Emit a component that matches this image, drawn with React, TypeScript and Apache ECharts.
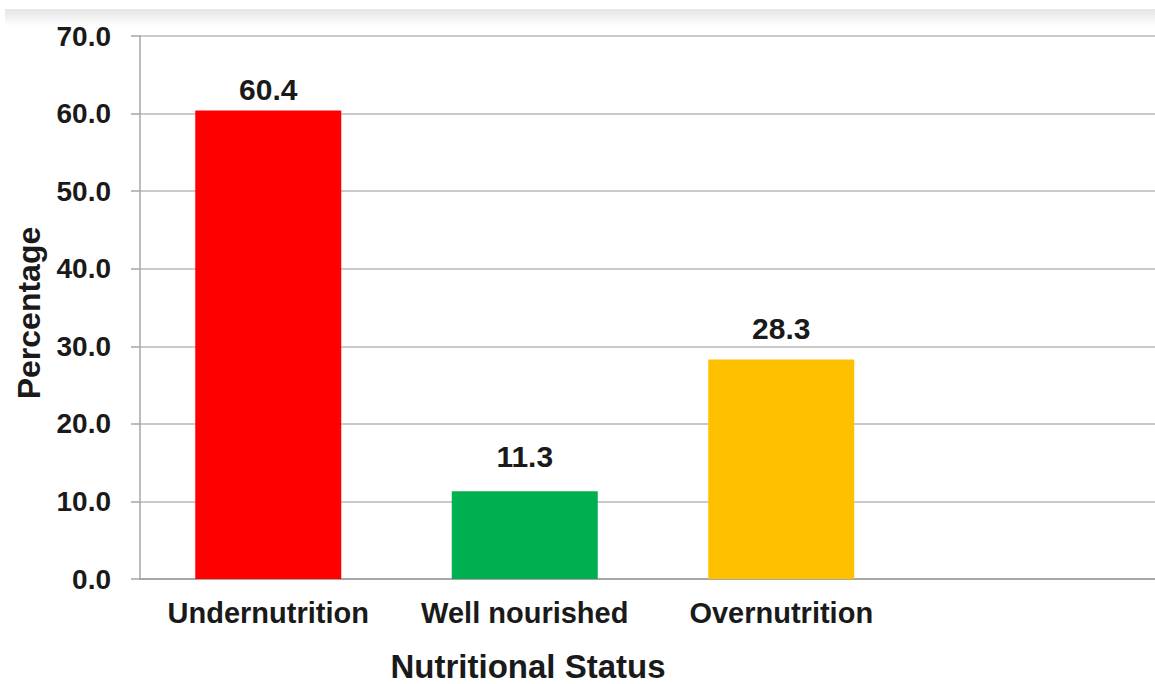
import React, { useEffect, useRef } from "react";
import * as echarts from "echarts";

const categories = ["Undernutrition", "Well nourished", "Overnutrition", ""];
const values = [60.4, 11.3, 28.3, null];
const barColors = ["#ff0000", "#00b050", "#ffc000", "#ffffff"];
const labelDistances = [6, 20, 16, 0];
const yMin = 0;
const yMax = 70;
const yInterval = 10;
const xTitle = "Nutritional Status";
const yTitle = "Percentage";

export default function App() {
  const ref = useRef<HTMLDivElement>(null);
  useEffect(() => {
    document.body.style.margin = "0";
    const chart = echarts.init(ref.current!, null, { renderer: "svg" });
    const font = "'Liberation Sans', Arial, sans-serif";
    chart.setOption({
      animation: false,
      backgroundColor: "#ffffff",
      grid: { left: 140, top: 36, right: 4, height: 543, containLabel: false },
      xAxis: {
        type: "category",
        data: categories,
        axisLine: { lineStyle: { color: "#a6a6a6", width: 2 } },
        axisTick: { show: false },
        axisLabel: {
          color: "#1a1a1a",
          fontFamily: font,
          fontWeight: "bold",
          fontSize: 29,
          margin: 19,
          interval: 0,
        },
      },
      yAxis: {
        type: "value",
        min: yMin,
        max: yMax,
        interval: yInterval,
        axisLine: { show: true, lineStyle: { color: "#a6a6a6", width: 1.5 } },
        axisTick: { show: true, length: 9, lineStyle: { color: "#a6a6a6", width: 1.5 } },
        splitLine: { lineStyle: { color: "#b8b8b8", width: 1.5 } },
        axisLabel: {
          color: "#1a1a1a",
          fontFamily: font,
          fontWeight: "bold",
          fontSize: 28,
          margin: 29,
          formatter: (v: number) => v.toFixed(1),
        },
      },
      series: [
        {
          type: "bar",
          data: values.map((v, i) => ({
            value: v,
            itemStyle: { color: barColors[i] },
            label: { distance: labelDistances[i] },
          })),
          barWidth: 146,
          label: {
            show: true,
            position: "top",
            color: "#1a1a1a",
            fontFamily: font,
            fontWeight: "bold",
            fontSize: 30,
            formatter: (p: any) => (p.value == null ? "" : Number(p.value).toFixed(1)),
          },
        },
      ],
      graphic: [
        {
          type: "rect",
          shape: { x: 5, y: 9, width: 1170, height: 17 },
          style: {
            fill: new echarts.graphic.LinearGradient(0, 0, 0, 1, [
              { offset: 0, color: "#e4e4e4" },
              { offset: 1, color: "#ffffff" },
            ]),
          },
          z: -1,
        },
        {
          type: "text",
          x: 528,
          y: 666,
          style: {
            text: xTitle,
            fontFamily: font,
            fontWeight: "bold",
            fontSize: 33,
            fill: "#1a1a1a",
            textAlign: "center",
            textVerticalAlign: "middle",
          },
        },
        {
          type: "text",
          x: 29,
          y: 313,
          rotation: Math.PI / 2,
          style: {
            text: yTitle,
            fontFamily: font,
            fontWeight: "bold",
            fontSize: 32,
            fill: "#1a1a1a",
            textAlign: "center",
            textVerticalAlign: "middle",
          },
        },
      ],
    });
    return () => chart.dispose();
  }, []);
  return (
    <div style={{ width: 1155, height: 684, overflow: "hidden" }}>
      <div ref={ref} style={{ width: 1170, height: 684 }} />
    </div>
  );
}
